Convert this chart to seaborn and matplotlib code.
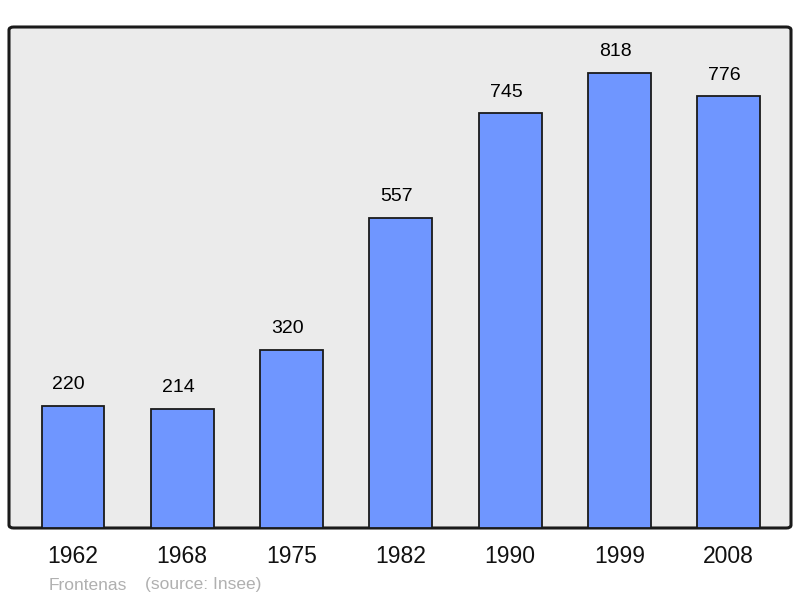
import matplotlib
matplotlib.use("Agg")
import matplotlib.pyplot as plt
import pandas as pd
import seaborn as sns
from matplotlib.patches import FancyBboxPatch

years = ["1962", "1968", "1975", "1982", "1990", "1999", "2008"]
population = [220, 214, 320, 557, 745, 818, 776]

sns.set_theme(style="white")
plt.rcParams["font.family"] = ["Liberation Sans", "DejaVu Sans"]

df = pd.DataFrame({"year": years, "pop": population})

fig = plt.figure(figsize=(8, 5.98), dpi=100)
ax = fig.add_axes([9 / 800, 70 / 598, 782 / 800, 501 / 598])
ax.set_facecolor("none")

# rounded grey frame behind the bars
frame = FancyBboxPatch((0, 0), 1, 1, boxstyle="round,pad=0,rounding_size=0.006",
                       transform=ax.transAxes, facecolor="#ebebeb", edgecolor="#1a1a1a",
                       linewidth=2.2, zorder=0, clip_on=False)
ax.add_patch(frame)

sns.barplot(data=df, x="year", y="pop", color="#6f96ff", saturation=1, width=0.575,
            edgecolor="#1a1a1a", linewidth=1.3, ax=ax, zorder=2)

for i, v in enumerate(population):
    ax.annotate(str(v), (i, v), xytext=(-3, 9), textcoords="offset points",
                ha="center", va="bottom", fontsize=14, color="#000000")

ax.set_ylim(0, 900)
ax.set_xlim(-0.585, 6.57)
ax.set_xlabel("")
ax.set_ylabel("")
ax.set_yticks([])
ax.tick_params(axis="x", length=0, labelsize=16.5, pad=12, colors="#111111")
for s in ax.spines.values():
    s.set_visible(False)

fig.text(49 / 800, 1 - 585 / 598, "Frontenas", fontsize=12.5, color="#b0b0b0", va="center")
fig.text(145 / 800, 1 - 585 / 598, "(source: Insee)", fontsize=12.5, color="#b0b0b0", va="center")

fig.savefig("out.png", dpi=100, facecolor="white")
